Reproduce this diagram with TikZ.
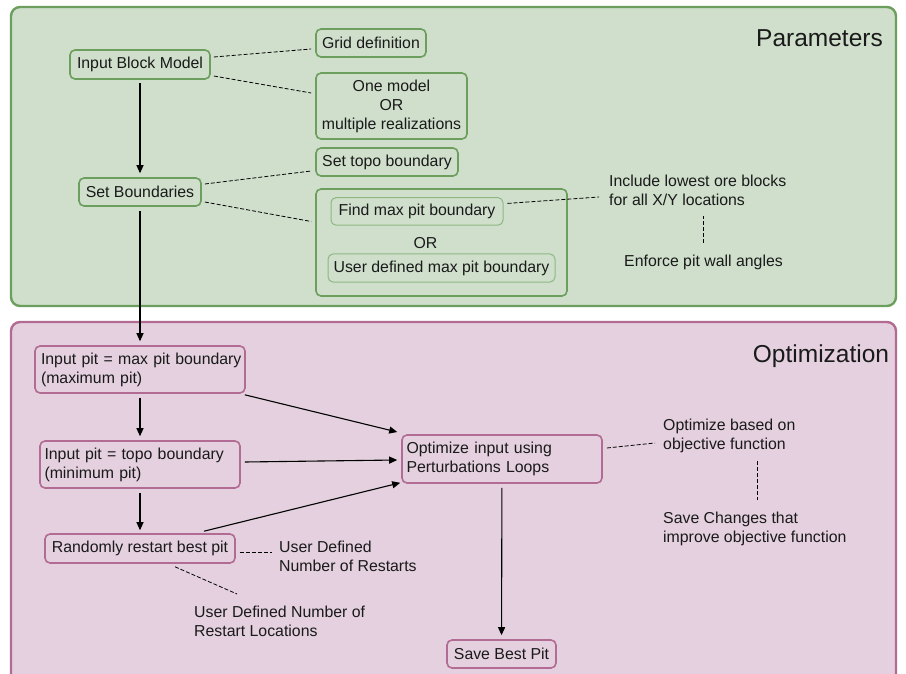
\documentclass[tikz,border=0pt]{standalone}
\usepackage{fontspec}
\setmainfont{Liberation Sans}
\usetikzlibrary{arrows.meta}
\definecolor{gfill}{HTML}{CFDFCB}
\definecolor{gline}{HTML}{6C9F5E}
\definecolor{gthin}{HTML}{8DB882}
\definecolor{pfill}{HTML}{E4D0DE}
\definecolor{pline}{HTML}{B26B92}
\definecolor{ink}{HTML}{1A1A1A}
\begin{document}
\begin{tikzpicture}[x=1pt,y=-1pt,
  every node/.style={font=\fontsize{15.85}{19}\selectfont, text=ink},
  gbox/.style={draw=gline, fill=gfill, line width=1.6pt, rounded corners=5pt, inner sep=0pt},
  gsub/.style={draw=gthin, fill=gfill, line width=1pt, rounded corners=5pt, inner sep=0pt},
  pbox/.style={draw=pline, fill=pfill, line width=1.6pt, rounded corners=5pt, inner sep=0pt},
  panel/.style={line width=2.4pt, rounded corners=9pt, inner sep=0pt},
  lbl/.style={inner sep=0pt, align=left},
  flow/.style={draw=black, line width=1.1pt, -{Triangle[length=8pt,width=7pt]}},
  link/.style={draw=black, line width=0.8pt, dash pattern=on 4pt off 2pt},
  title/.style={font=\fontsize{24.5}{28}\selectfont, inner sep=0pt}]

\useasboundingbox (0,0) rectangle (906,674);
\clip (0,0) rectangle (906,674);

% panels
\node[panel, draw=gline, fill=gfill, minimum width=885pt, minimum height=299pt] (params) at (453.5,156.5) {};
\node[panel, draw=pline, fill=pfill, minimum width=885pt, minimum height=378pt] (optim) at (453.5,511) {};

\node[title] (ptitle) at (819.5,38) {Parameters};
\node[title] (otitle) at (821,356) {Optimization};

% parameters
\node[gbox, minimum width=140pt, minimum height=29pt] (ibm) at (140,64.5) {Input Block Model};
\node[gbox, minimum width=110pt, minimum height=28pt] (grid) at (371,43) {Grid definition};
\node[gbox, minimum width=151pt, minimum height=66pt, align=center] (onemodel) at (391.5,106) {One model\\OR\\multiple realizations};
\node[gbox, minimum width=142pt, minimum height=28pt] (topo) at (387,162) {Set topo boundary};
\node[gbox, minimum width=122pt, minimum height=28pt] (setb) at (140,192) {Set Boundaries};
\node[gbox, minimum width=251pt, minimum height=107pt] (orbox) at (441.5,242.5) {};
\node[gsub, minimum width=172pt, minimum height=27.5pt] (findmax) at (417,211.4) {Find max pit boundary};
\node[inner sep=0pt] (ortext) at (425.5,243) {OR};
\node[gsub, minimum width=227pt, minimum height=28pt] (userdef) at (441.5,268) {User defined max pit boundary};
\node[lbl, anchor=west] (include) at (609,190.5) {Include lowest ore blocks\\for all X/Y locations};
\node[inner sep=0pt] (enforce) at (703.5,262) {Enforce pit wall angles};

% optimization
\node[pbox, text width=203pt, inner xsep=3.5pt, minimum height=47pt, align=left] (pmax) at (140,369.5) {\hspace*{2.5pt}Input pit = max pit boundary\\\hspace*{2.5pt}(maximum pit)};
\node[pbox, text width=191pt, inner xsep=4.5pt, minimum height=47pt, align=left] (ptopo) at (140,464.5) {Input pit = topo boundary\\(minimum pit)};
\node[pbox, minimum width=190pt, minimum height=29pt] (rand) at (140,548.5) {Randomly restart best pit};
\node[pbox, text width=191pt, inner xsep=4.5pt, minimum height=48pt, align=left] (opt) at (502,459) {Optimize input using\\Perturbations Loops};
\node[pbox, minimum width=109pt, minimum height=28pt] (save) at (501.5,654) {Save Best Pit};
\node[lbl, anchor=west] (restarts) at (279,556.5) {User Defined\\Number of Restarts};
\node[lbl, anchor=west] (locations) at (194,621) {User Defined Number of\\Restart Locations};
\node[lbl, anchor=west] (objective) at (663,435.5) {Optimize based on\\objective function};
\node[lbl, anchor=west] (savechg) at (663,529) {Save Changes that\\improve objective function};

% flow arrows
\draw[flow, shorten <=3pt, shorten >=4pt] (ibm) -- (setb);
\draw[flow, shorten <=4pt, shorten >=4pt] (setb) -- (pmax);
\draw[flow, shorten <=4pt, shorten >=4pt] (pmax) -- (ptopo);
\draw[flow, shorten <=4pt, shorten >=3pt] (ptopo) -- (rand);
\draw[flow, shorten <=4pt, shorten >=4pt] (opt) -- (save);
\draw[flow] ([xshift=-1pt,yshift=-1pt]pmax.south east) -- ([xshift=-4pt,yshift=27pt]opt.west);
\draw[flow] ([xshift=4pt,yshift=2.5pt]ptopo.east) -- ([xshift=-4pt,yshift=-1pt]opt.west);
\draw[flow] ([xshift=64pt,yshift=2pt]rand.north) -- ([xshift=-1pt,yshift=1pt]opt.south west);

% dashed links
\draw[link] ([xshift=3pt,yshift=7.5pt]ibm.east) -- ([xshift=-4pt,yshift=-6pt]grid.west);
\draw[link] ([xshift=3pt,yshift=-11.5pt]ibm.east) -- ([xshift=-4pt,yshift=13pt]onemodel.west);
\draw[link] ([xshift=3pt,yshift=8pt]setb.east) -- ([xshift=-4pt,yshift=-9pt]topo.west);
\draw[link] ([xshift=3pt,yshift=-10pt]setb.east) -- ([xshift=-4pt,yshift=21pt]orbox.west);
\draw[link] ([xshift=4pt,yshift=8pt]findmax.east) -- ([xshift=-10pt,yshift=-6.5pt]include.west);
\draw[link] ([yshift=19pt]enforce.center) -- ([yshift=46pt]enforce.center);
\draw[link] ([xshift=4pt,yshift=-3.5pt]rand.east) -- ([xshift=-7pt,yshift=4.5pt]restarts.west);
\draw[link] ([xshift=35pt,yshift=-3pt]rand.south) -- ([xshift=43pt,yshift=27pt]locations.west);
\draw[link] ([xshift=4pt,yshift=11pt]opt.east) -- ([xshift=-8pt,yshift=-7.5pt]objective.west);
\draw[link] ([xshift=94pt,yshift=-25.5pt]objective.west) -- ([xshift=94pt,yshift=29pt]savechg.west);
\end{tikzpicture}
\end{document}
